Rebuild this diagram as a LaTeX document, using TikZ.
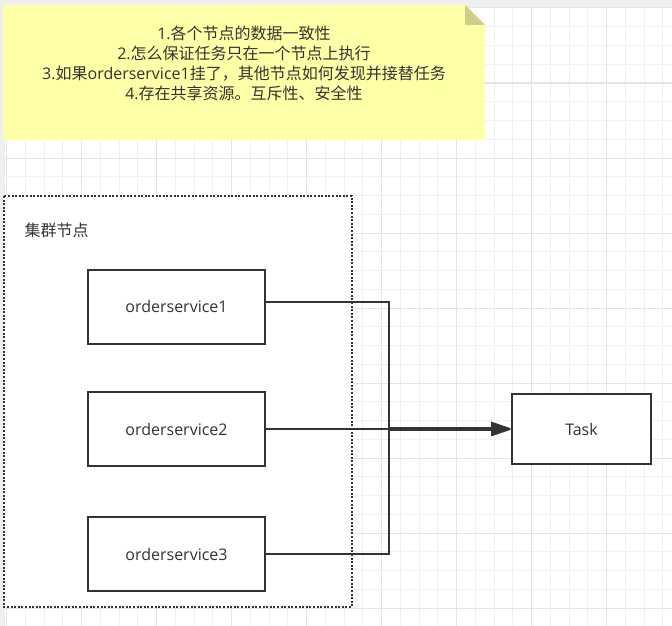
\documentclass[tikz,border=0pt]{standalone}
\usepackage{fontspec}
\setmainfont{Open Sans}
\newfontfamily\cjk{Noto Sans CJK SC}
\usetikzlibrary{arrows.meta}
\definecolor{pagegray}{HTML}{EFEFEF}
\definecolor{gridminor}{HTML}{F1F1F1}
\definecolor{gridmajor}{HTML}{E4E4E4}
\definecolor{notefill}{HTML}{FFFFA8}
\definecolor{notefold}{HTML}{CFCF8A}
\definecolor{ink}{HTML}{333333}
\tikzset{
  svc/.style={draw=ink, line width=2pt, fill=white, inner sep=0pt,
    minimum width=177pt, minimum height=74pt, text=ink,
    font=\fontsize{16}{20}\selectfont},
  taskbox/.style={svc, minimum width=139pt, minimum height=70pt},
  link/.style={draw=ink, line width=2pt, -{Triangle[length=20pt,width=13pt]}},
  label/.style={text=ink, font=\fontsize{16}{20}\selectfont}
}
\begin{document}
\begin{tikzpicture}[x=1pt, y=-1pt]
    \useasboundingbox (0,0) rectangle (672,626);
    %Page
    \fill[pagegray] (0,0) rectangle (672,626);
    \fill[white] (5,8) rectangle (672,626);
    %Minor grid
    \foreach \x in {6.7, 25.45,...,672}
      \draw[gridminor, line width=1pt] (\x,8) -- (\x,626);
    \foreach \y in {8, 26.75,...,626}
      \draw[gridminor, line width=1pt] (5,\y) -- (672,\y);
    %Major grid
    \foreach \x in {6.7, 81.7,...,672}
      \draw[gridmajor, line width=1pt] (\x,8) -- (\x,626);
    \foreach \y in {8, 83,...,626}
      \draw[gridmajor, line width=1pt] (5,\y) -- (672,\y);
    %Note
    \fill[notefill] (3,5) -- (465,5) -- (485,25) -- (485,140) -- (3,140) -- cycle;
    \fill[notefold] (465,5) -- (485,25) -- (465,25) -- cycle;
    \node[label, align=center] (note) at (244,63)
      {1.{\cjk 各个节点的数据一致性}\\
       2.{\cjk 怎么保证任务只在一个节点上执行}\\
       3.{\cjk 如果}orderservice1{\cjk 挂了，其他节点如何发现并接替任务}\\
       4.{\cjk 存在共享资源。互斥性、安全性}};
    %Cluster
    \draw[ink, fill=white, line width=2pt, dash pattern=on 2pt off 1.6pt]
      (4,196) rectangle (352,607);
    \node[label, anchor=west] (cluster) at (21,230) {\cjk 集群节点};
    %Services
    \foreach \i/\y in {1/306.5, 2/429, 3/554}
      \node[svc] (os\i) at (176.5,\y) {orderservice\i};
    %Task
    \node[taskbox] (task) at (581.5,429) {Task};
    \coordinate (bus) at (389,429);
    %Links
    \foreach \i/\s/\t in {1/4.5/0.7, 2/0/0, 3/0/-0.7}
      \draw[link] ([yshift=\s]os\i.east) -| ([yshift=\t]bus) -- ([yshift=\t]task.west);
  \end{tikzpicture}
\end{document}
